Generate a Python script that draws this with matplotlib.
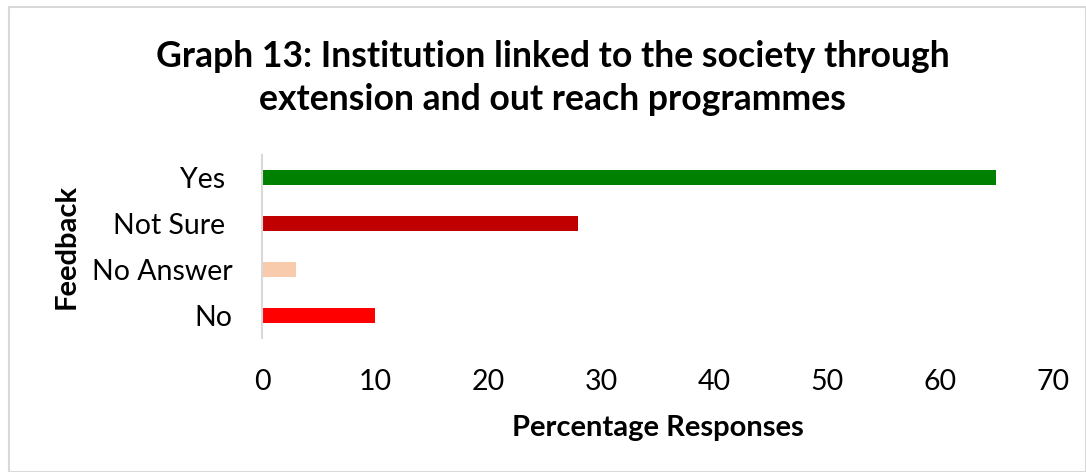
import matplotlib
matplotlib.use("Agg")
import matplotlib.pyplot as plt
from matplotlib.patches import Rectangle

plt.rcParams["font.family"] = ["Lato", "DejaVu Sans"]

# data
categories = ["No", "No Answer", "Not Sure ", "Yes "]
percentages = [10, 3, 28, 65]
bar_colors = ["#ff0000", "#f8cbad", "#c00000", "#008000"]
x_ticks = [0, 10, 20, 30, 40, 50, 60, 70]

fig = plt.figure(figsize=(10.86, 4.72), dpi=100)
ax = fig.add_axes([262 / 1086, 1 - 338 / 472, (1053 - 262) / 1086, (338 - 155) / 472])

ax.barh(categories, percentages, height=0.33, color=bar_colors)

ax.set_xlim(0, 70)
ax.set_ylim(-0.5, 3.5)
ax.set_xticks(x_ticks)
ax.tick_params(axis="both", length=0, labelsize=20.5)
ax.tick_params(axis="x", pad=22)
ax.tick_params(axis="y", pad=21)

for side in ["top", "right", "bottom"]:
    ax.spines[side].set_visible(False)
ax.spines["left"].set_color("#d9d9d9")
ax.spines["left"].set_linewidth(1.5)

ax.set_xlabel("Percentage Responses", fontsize=21, fontweight="bold", labelpad=15)
ax.set_ylabel("Feedback", fontsize=21, fontweight="bold", labelpad=9)

fig.text(0.509, 0.835, "Graph 13: Institution linked to the society through\nextension and out reach programmes",
         ha="center", va="center", fontsize=25.6, fontweight="bold", linespacing=1.36)

# light border around the chart area
fig.patches.append(Rectangle((9 / 1086, 0), 1 - 9 / 1086, 1 - 7 / 472, transform=fig.transFigure,
                             fill=False, edgecolor="#d9d9d9", linewidth=1.5))

fig.savefig("out.png", dpi=100)
